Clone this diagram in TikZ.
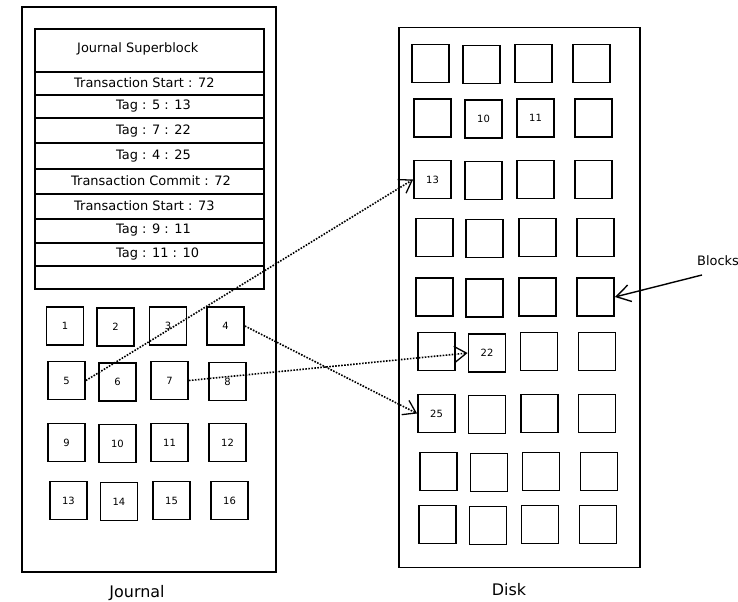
\documentclass[tikz,border=0pt]{standalone}
\usepackage{fontspec}
\setmainfont{DejaVu Sans}
\usetikzlibrary{arrows.meta}
\begin{document}
\begin{tikzpicture}[x=1bp,y=-1bp,
  frame/.style={draw, line width=1.7bp},
  blk/.style={draw, line width=1.8bp, minimum width=37bp, minimum height=38bp,
    inner sep=0pt, font=\fontsize{10}{12}\selectfont},
  rowtext/.style={anchor=base west, inner sep=0pt, font=\fontsize{13}{15}\selectfont},
  caption/.style={inner sep=0pt, font=\fontsize{16}{18}\selectfont},
  tagline/.style={line width=1.6bp, dash pattern=on 1.6bp off 1.4bp,
    -{Straight Barb[length=12bp,width=16bp,line width=1.3bp]}},
  pointer/.style={line width=1.4bp,
    -{Straight Barb[length=14bp,width=17bp,line width=1.4bp]}}
]
\useasboundingbox (0,0) rectangle (738,602);
\fill[white] (0,0) rectangle (738,602);

% ---------- journal ----------
\node[frame, minimum width=254bp, minimum height=565bp, inner sep=0pt] (journal) at (149,289.5) {};
\draw[frame] (35,29) rectangle (264,289);
\foreach \yy in {72,95,118,143,169,194,219,243,266}
  \draw[line width=1.7bp] (35,\yy) -- (264,\yy);

\node[rowtext] (sb)   at (77,52.5)  {Journal Superblock};
\node[rowtext] (ts72) at (74,87.5)  {Transaction Start : 72};
\node[rowtext] (t513) at (116,110)  {Tag : 5 : 13};
\node[rowtext] (t722) at (116,135)  {Tag : 7 : 22};
\node[rowtext] (t425) at (116,160)  {Tag : 4 : 25};
\node[rowtext] (tc72) at (71,185.5) {Transaction Commit : 72};
\node[rowtext] (ts73) at (74,211)   {Transaction Start : 73};
\node[rowtext] (t911) at (116,233.5){Tag : 9 : 11};
\node[rowtext] (t1110) at (116,257) {Tag : 11 : 10};

% journal blocks
\node[blk] (j1)  at (65,326)    {1};
\node[blk] (j2)  at (115.5,327) {2};
\node[blk] (j3)  at (168,326)   {3};
\node[blk] (j4)  at (225.5,326) {4};
\node[blk] (j5)  at (66.5,380.5){5};
\node[blk] (j6)  at (117.5,382) {6};
\node[blk] (j7)  at (169.5,380.5){7};
\node[blk] (j8)  at (227.5,381.5){8};
\node[blk] (j9)  at (66.5,442.5){9};
\node[blk] (j10) at (117.5,443.5){10};
\node[blk] (j11) at (169.5,442.5){11};
\node[blk] (j12) at (227.5,442.5){12};
\node[blk] (j13) at (68.5,500.5){13};
\node[blk] (j14) at (119,501.5) {14};
\node[blk] (j15) at (171.5,500.5){15};
\node[blk] (j16) at (229.5,500.5){16};

\node[caption] (jcap) at (137,593) {Journal};

% ---------- disk ----------
\node[frame, minimum width=241bp, minimum height=540bp, inner sep=0pt] (disk) at (519.5,297.5) {};

\node[blk] (d1-1) at (430.5,63.5) {};
\node[blk] (d1-2) at (481.5,64.5) {};
\node[blk] (d1-3) at (533.5,63.5) {};
\node[blk] (d1-4) at (591.5,63.5) {};

\node[blk] (d2-1) at (432.5,118) {};
\node[blk] (d2-2) at (483.5,119) {10};
\node[blk] (d2-3) at (535.5,118) {11};
\node[blk] (d2-4) at (593.5,118) {};

\node[blk] (d3-1) at (432.5,179.5) {13};
\node[blk] (d3-2) at (483.5,180.5) {};
\node[blk] (d3-3) at (535.5,179.5) {};
\node[blk] (d3-4) at (593.5,179.5) {};

\node[blk] (d4-1) at (434.5,237.5) {};
\node[blk] (d4-2) at (484.5,238.5) {};
\node[blk] (d4-3) at (537.5,237.5) {};
\node[blk] (d4-4) at (595.5,237.5) {};

\node[blk] (d5-1) at (434.5,297) {};
\node[blk] (d5-2) at (484.5,298) {};
\node[blk] (d5-3) at (537.5,297) {};
\node[blk] (d5-4) at (595.5,297) {};

\node[blk] (d6-1) at (436.5,351.5) {};
\node[blk] (d6-2) at (487,353) {22};
\node[blk] (d6-3) at (539,351.5) {};
\node[blk] (d6-4) at (597,351.5) {};

\node[blk] (d7-1) at (436.5,413.5) {25};
\node[blk] (d7-2) at (487,414.5) {};
\node[blk] (d7-3) at (539.5,413.5) {};
\node[blk] (d7-4) at (597,413.5) {};

\node[blk] (d8-1) at (438.5,471.5) {};
\node[blk] (d8-2) at (489,472.5) {};
\node[blk] (d8-3) at (541,471.5) {};
\node[blk] (d8-4) at (599,471.5) {};

\node[blk] (d9-1) at (437.5,524.5) {};
\node[blk] (d9-2) at (488,525.5) {};
\node[blk] (d9-3) at (540,524.5) {};
\node[blk] (d9-4) at (598,524.5) {};

\node[caption] (dcap) at (509,590) {Disk};

% ---------- label for the disk blocks ----------
\node[anchor=base west, inner sep=0pt, font=\fontsize{13}{15}\selectfont] (blocks) at (697,265) {Blocks};
\coordinate (bfrom) at (702,275);
\draw[pointer] (bfrom) -- (d5-4.east);

% ---------- tags: journal block -> disk block ----------
\draw[tagline] (j5.east) -- (d3-1.west);
\draw[tagline] (j7.east) -- (d6-2.west);
\draw[tagline] (j4.east) -- (d7-1.west);
\end{tikzpicture}
\end{document}
